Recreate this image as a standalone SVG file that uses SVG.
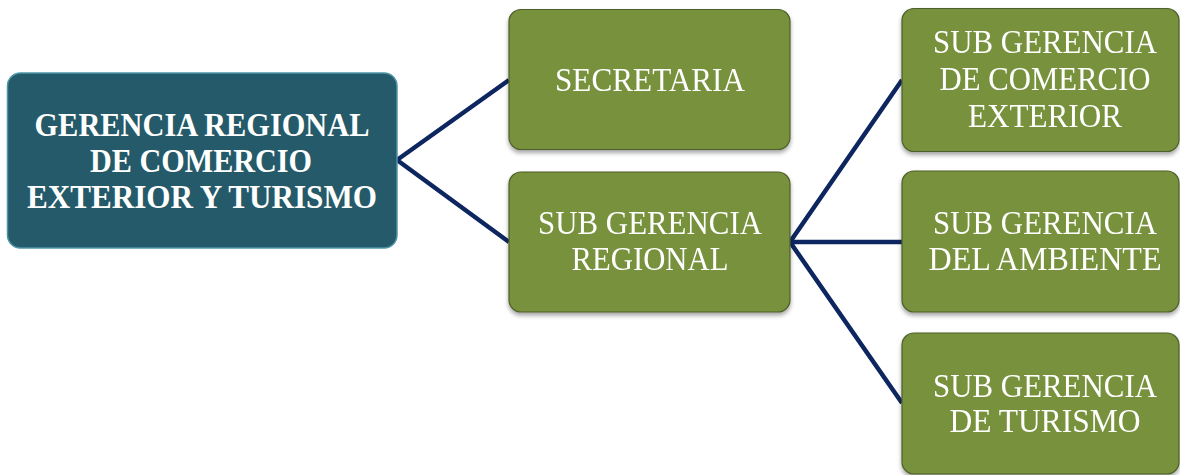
<svg xmlns="http://www.w3.org/2000/svg" width="1180" height="475" viewBox="0 0 1180 475">
  <style>
    .root { fill: #245a69; stroke: #4f95a6; stroke-width: 1.5; }
    .box { fill: #77913c; stroke: #4e5f2a; stroke-width: 1.2; }
    .lbl { font-family: "Liberation Serif", "Times New Roman", serif; font-size: 34px; fill: #ffffff; text-anchor: middle; }
    .bold { font-weight: bold; }
    .link { stroke: #0e2660; stroke-width: 4.5; fill: none; }
  </style>
  <defs>
    <filter id="shadow" x="-10%" y="-10%" width="120%" height="130%">
      <feDropShadow dx="0" dy="3" stdDeviation="2.2" flood-color="#000" flood-opacity="0.35"/>
    </filter>
  </defs>

  <g id="connectors">
    <path class="link" d="M397,160 L509,80 M397,160 L509,242"/>
    <path class="link" d="M790,242 L902,80 M790,242 L902,242 M790,242 L902,403"/>
  </g>

  <g id="gerencia-regional">
    <rect class="root" x="7.5" y="73" width="389.5" height="175" rx="13"/>
    <text class="lbl bold" x="202" y="136" textLength="335" lengthAdjust="spacingAndGlyphs">GERENCIA REGIONAL</text>
    <text class="lbl bold" x="201" y="172" textLength="222" lengthAdjust="spacingAndGlyphs">DE COMERCIO</text>
    <text class="lbl bold" x="202" y="208" textLength="350" lengthAdjust="spacingAndGlyphs">EXTERIOR Y TURISMO</text>
  </g>

  <g id="secretaria" filter="url(#shadow)">
    <rect class="box" x="509" y="9.5" width="281" height="140" rx="12"/>
    <text class="lbl" x="650" y="91" textLength="190" lengthAdjust="spacingAndGlyphs">SECRETARIA</text>
  </g>

  <g id="sub-gerencia-regional" filter="url(#shadow)">
    <rect class="box" x="509" y="172" width="281" height="140" rx="12"/>
    <text class="lbl" x="650" y="234" textLength="224" lengthAdjust="spacingAndGlyphs">SUB GERENCIA</text>
    <text class="lbl" x="650" y="270" textLength="157" lengthAdjust="spacingAndGlyphs">REGIONAL</text>
  </g>

  <g id="sub-gerencia-comercio-exterior" filter="url(#shadow)">
    <rect class="box" x="902" y="8.5" width="277" height="143" rx="12"/>
    <text class="lbl" x="1045" y="53" textLength="224" lengthAdjust="spacingAndGlyphs">SUB GERENCIA</text>
    <text class="lbl" x="1045" y="90" textLength="211" lengthAdjust="spacingAndGlyphs">DE COMERCIO</text>
    <text class="lbl" x="1045" y="127" textLength="154" lengthAdjust="spacingAndGlyphs">EXTERIOR</text>
  </g>

  <g id="sub-gerencia-ambiente" filter="url(#shadow)">
    <rect class="box" x="902" y="171" width="277" height="141" rx="12"/>
    <text class="lbl" x="1045" y="234" textLength="224" lengthAdjust="spacingAndGlyphs">SUB GERENCIA</text>
    <text class="lbl" x="1045" y="270" textLength="233" lengthAdjust="spacingAndGlyphs">DEL AMBIENTE</text>
  </g>

  <g id="sub-gerencia-turismo" filter="url(#shadow)">
    <rect class="box" x="902" y="333" width="277" height="141" rx="12"/>
    <text class="lbl" x="1045" y="397" textLength="224" lengthAdjust="spacingAndGlyphs">SUB GERENCIA</text>
    <text class="lbl" x="1045" y="432" textLength="191" lengthAdjust="spacingAndGlyphs">DE TURISMO</text>
  </g>
</svg>
